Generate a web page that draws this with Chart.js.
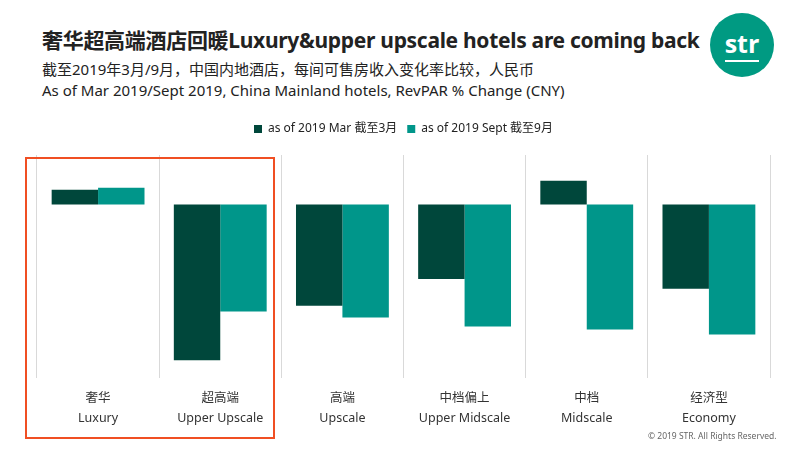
<!DOCTYPE html>
<html><head><meta charset="utf-8">
<script src="https://cdn.jsdelivr.net/npm/chart.js@4/dist/chart.umd.min.js"></script>
<style>
body{margin:0;width:800px;height:450px;background:#fff;position:relative;overflow:hidden;font-family:"Noto Sans","Noto Sans CJK SC",sans-serif}
#t1{position:absolute;left:42px;top:24px;font-size:21px;font-weight:bold;color:#222;letter-spacing:-0.3px}
#t2{position:absolute;left:42px;top:58px;font-size:15px;color:#222}
#t3{position:absolute;left:42px;top:80px;font-size:15px;color:#222}
#logo{position:absolute;left:710px;top:13px;width:64px;height:64px;border-radius:50%;background:#009a82;color:#fff;font:bold 25px "Open Sans",sans-serif;text-align:center;line-height:60px}
#logo span{border-bottom:2px solid #fff;padding-bottom:0}
#box{position:absolute;left:25px;top:157px;width:250px;height:282px;border:2.5px solid #f04f23;box-sizing:border-box}
#copy{position:absolute;left:648px;top:430px;font-size:8.5px;color:#666}
#wrap{position:absolute;left:0;top:113px;width:800px;height:325px}
</style></head><body>
<div id="t1">奢华超高端酒店回暖Luxury&amp;upper upscale hotels are coming back</div>
<div id="t2">截至2019年3月/9月，中国内地酒店，每间可售房收入变化率比较，人民币</div>
<div id="t3">As of Mar 2019/Sept 2019, China Mainland hotels, RevPAR % Change (CNY)</div>
<div id="logo"><span>str</span></div>
<div id="wrap"><canvas id="c"></canvas></div>
<div id="box"></div>
<div id="copy">© 2019 STR. All Rights Reserved.</div>
<script>
const categories=[["奢华","Luxury"],["超高端","Upper Upscale"],["高端","Upscale"],["中档偏上","Upper Midscale"],["中档","Midscale"],["经济型","Economy"]];
const marValues=[1.5,-15.7,-10.2,-7.5,2.4,-8.5];
const septValues=[1.7,-10.8,-11.4,-12.3,-12.6,-13.1];
const seriesNames=["as of 2019 Mar 截至3月","as of 2019 Sept 截至9月"];
new Chart(document.getElementById('c'),{type:'bar',
data:{labels:categories,datasets:[
{label:seriesNames[0],data:marValues,backgroundColor:'#00473b'},
{label:seriesNames[1],data:septValues,backgroundColor:'#00968a'}]},
plugins:[{id:'lp',beforeInit(ch){const f=ch.legend.fit;ch.legend.fit=function(){f.call(this);this.height+=10;};}}],
options:{responsive:true,maintainAspectRatio:false,animation:false,
layout:{padding:{left:37,right:30,top:0,bottom:0}},
datasets:{bar:{categoryPercentage:0.76,barPercentage:1}},
plugins:{legend:{position:'top',labels:{boxWidth:8,boxHeight:8,color:'#222',font:{size:12,family:'"Noto Sans","Noto Sans CJK SC"'},padding:10}},tooltip:{enabled:false}},
scales:{y:{display:false,min:-17.5,max:5},
x:{grid:{offset:true,color:'#d9d9d9',drawTicks:false},border:{display:false},
ticks:{color:'#333',padding:10,font:{size:12.5,lineHeight:1.6,family:'"Noto Sans","Noto Sans CJK SC"'}}}}}});
</script></body></html>
